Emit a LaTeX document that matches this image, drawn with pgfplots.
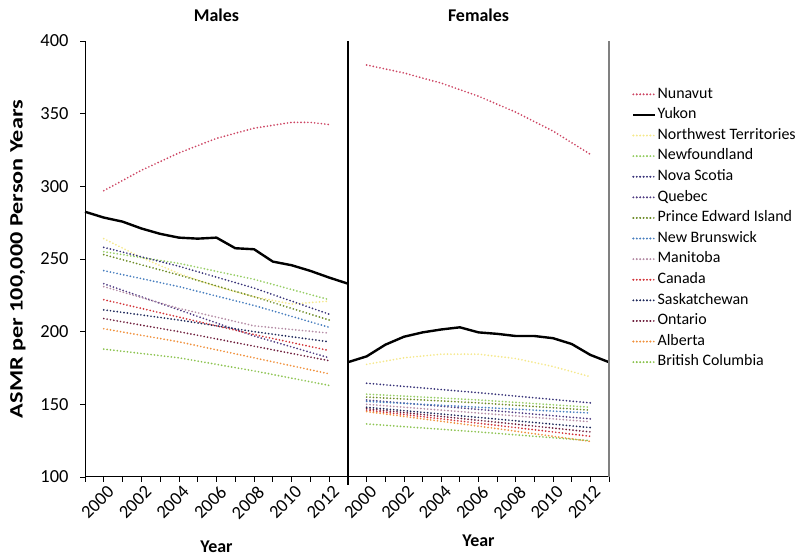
\documentclass[border=0pt]{standalone}
\usepackage{fontspec}
\setmainfont{Carlito}
\usepackage{pgfplots}
\pgfplotsset{compat=1.18}
\definecolor{cNun}{RGB}{205,70,100}
\definecolor{cNWT}{RGB}{245,232,140}
\definecolor{cNfl}{RGB}{150,205,100}
\definecolor{cNS}{RGB}{55,50,120}
\definecolor{cQc}{RGB}{80,60,130}
\definecolor{cPEI}{RGB}{110,140,40}
\definecolor{cNB}{RGB}{70,125,190}
\definecolor{cMb}{RGB}{180,140,165}
\definecolor{cCa}{RGB}{210,50,55}
\definecolor{cSk}{RGB}{30,40,90}
\definecolor{cOn}{RGB}{110,30,60}
\definecolor{cAb}{RGB}{240,145,60}
\definecolor{cBC}{RGB}{140,195,80}
\pgfplotsset{
  dl/.style={line width=1.9bp, dash pattern=on 0bp off 3.4bp, line cap=round, no markers},
  yk/.style={line width=2.4bp, black, solid, line join=round, no markers},
  common/.style={
    scale only axis, height=436bp, clip=false,
    ymin=100, ymax=400, xmin=1999, xmax=2013,
    xtick={2000,2002,2004,2006,2008,2010,2012},
    xticklabels={2000,2002,2004,2006,2008,2010,2012},
    minor xtick={1999,2000,...,2013},
    tick align=outside, major tick length=5bp, minor tick length=5bp,
    tick style={black, line width=0.8bp},
    axis line style={black, line width=1bp},
    tick label style={font=\fontsize{18.5}{20}\selectfont},
    xticklabel style={rotate=45, anchor=east, inner sep=1bp, yshift=-10bp, xshift=1bp},
    yticklabel style={xshift=-8bp},
    title style={font=\bfseries\fontsize{18}{20}\selectfont, at={(axis description cs:0.5,1)}, anchor=south, yshift=10bp},
    legend image code/.code={\draw[##1] (0bp,0bp) -- (17bp,0bp); \path (0bp,0bp) -- (22bp,0bp);},
  }
}
\begin{document}
\begin{tikzpicture}[x=1bp,y=1bp]
\useasboundingbox (0,0) rectangle (800,556);
% Males
\begin{axis}[common, at={(85bp,79bp)}, anchor=south west, width=263bp,
  axis x line*=bottom, axis y line*=left,
  ytick={100,150,200,250,300,350,400},
  yticklabels={100,150,200,250,300,350,400},
  title={Males},
  xlabel={Year}, xlabel style={font=\bfseries\fontsize{18}{20}\selectfont, at={(axis description cs:0.5,0)}, anchor=center, yshift=-70bp},
  ylabel={\scalebox{1.28}[1]{ASMR per 100,000 Person Years}}, ylabel style={font=\bfseries\fontsize{19}{21}\selectfont, at={(axis description cs:-0.255,0.5)}, anchor=center},
]
\addplot[dl, cNun] coordinates {(2000,297)(2002,311)(2004,323)(2006,333)(2008,340)(2010,344)(2011,344)(2012,342.5)};
\addplot[yk] coordinates {(1999,282.5)(2000,278.5)(2001,275.7)(2002,271)(2003,267.3)(2004,264.7)(2005,264)(2006,264.7)(2007,257.4)(2008,256.7)(2009,248.2)(2010,245.7)(2011,241.8)(2012,237.2)(2013,233)};
\addplot[dl, cNWT] coordinates {(2000,264)(2002,251)(2004,240)(2006,231)(2008,224)(2010,219)(2012,221)};
\addplot[dl, cNfl] coordinates {(2000,255)(2004,247)(2008,236)(2012,222)};
\addplot[dl, cNS] coordinates {(2000,258)(2004,245)(2008,230)(2012,212)};
\addplot[dl, cQc] coordinates {(2000,233)(2004,215)(2008,197)(2012,182)};
\addplot[dl, cPEI] coordinates {(2000,253)(2004,239)(2008,224)(2012,208)};
\addplot[dl, cNB] coordinates {(2000,242)(2004,231)(2008,218)(2012,203)};
\addplot[dl, cMb] coordinates {(2000,231)(2004,216)(2008,204)(2012,199)};
\addplot[dl, cCa] coordinates {(2000,222)(2004,210)(2008,198)(2012,187)};
\addplot[dl, cSk] coordinates {(2000,215)(2004,208)(2008,200)(2012,193)};
\addplot[dl, cOn] coordinates {(2000,209)(2004,200)(2008,190)(2012,180)};
\addplot[dl, cAb] coordinates {(2000,202)(2004,193)(2008,182)(2012,171)};
\addplot[dl, cBC] coordinates {(2000,188)(2004,182)(2008,173)(2012,163)};
\draw[black, line width=1.2bp] (axis cs:2013,400) -- ([yshift=-8bp]axis cs:2013,100);
\end{axis}
% Females
\begin{axis}[common, at={(348bp,79bp)}, anchor=south west, width=261bp,
  axis x line*=bottom, axis y line=none, ytick=\empty,
  title={Females},
  xlabel={Year}, xlabel style={font=\bfseries\fontsize{18}{20}\selectfont, at={(axis description cs:0.5,0)}, anchor=center, yshift=-64bp},
  legend style={at={(1.088,0.897)}, anchor=north west, draw=none, fill=none,
    font=\fontsize{16}{18}\selectfont, row sep=4.1bp, inner sep=0pt,
    nodes={inner sep=1bp, text height=11bp, text depth=3.5bp}},
  legend cell align=left,
]
\addplot[dl, cNun] coordinates {(2000,383.5)(2002,378)(2004,371)(2006,362)(2008,351)(2010,338)(2012,322)};
\addplot[yk] coordinates {(1999,179)(2000,183)(2001,191)(2002,196.5)(2003,199.5)(2004,201.5)(2005,203)(2006,199.5)(2007,198.5)(2008,197)(2009,197)(2010,195.5)(2011,191.5)(2012,184)(2013,179)};
\addplot[dl, cNWT] coordinates {(2000,177.5)(2002,182)(2004,184.5)(2006,184.5)(2008,181.5)(2010,176)(2012,169)};
\addplot[dl, cNfl] coordinates {(2000,157)(2006,153)(2012,148)};
\addplot[dl, cNS] coordinates {(2000,164.5)(2006,158)(2012,151)};
\addplot[dl, cQc] coordinates {(2000,153)(2006,146.5)(2012,140)};
\addplot[dl, cPEI] coordinates {(2000,155)(2006,151)(2012,146)};
\addplot[dl, cNB] coordinates {(2000,152)(2006,148)(2012,144)};
\addplot[dl, cMb] coordinates {(2000,150)(2006,144)(2012,138)};
\addplot[dl, cCa] coordinates {(2000,146)(2006,137)(2012,128)};
\addplot[dl, cSk] coordinates {(2000,148)(2006,141)(2012,134)};
\addplot[dl, cOn] coordinates {(2000,147)(2006,139)(2012,131)};
\addplot[dl, cAb] coordinates {(2000,145)(2006,135)(2012,124.5)};
\addplot[dl, cBC] coordinates {(2000,136.5)(2006,131)(2012,125)};
\legend{Nunavut,Yukon,Northwest Territories,Newfoundland,Nova Scotia,Quebec,Prince Edward Island,New Brunswick,Manitoba,Canada,Saskatchewan,Ontario,Alberta,British Columbia}
\draw[gray, line width=1.5bp] (rel axis cs:1,0) -- (rel axis cs:1,1);
\end{axis}
\end{tikzpicture}
\end{document}
